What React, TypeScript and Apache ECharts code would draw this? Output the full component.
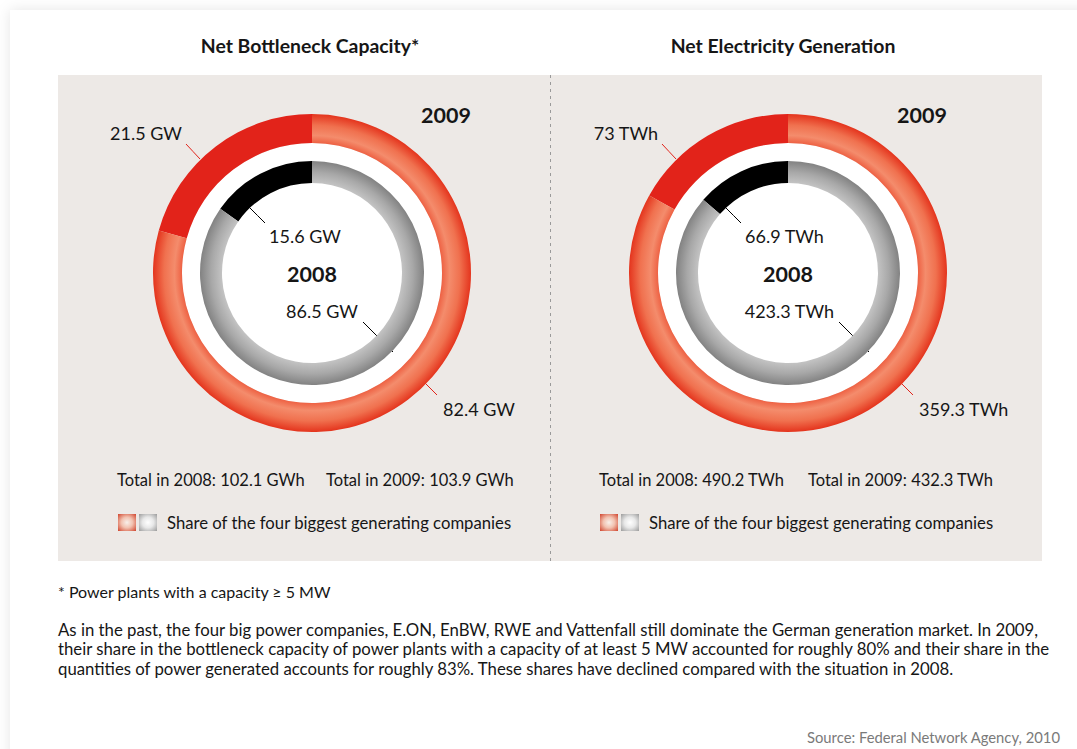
import React, { useEffect, useRef } from "react";
import * as echarts from "echarts";

// ---------- data ----------
const chartTitles = ["Net Bottleneck Capacity*", "Net Electricity Generation"];
const valueUnits = ["GW", "TWh"];
const totalUnits = ["GWh", "TWh"];
const sliceNames = ["Four biggest generating companies", "Other companies"];
const capacity2008 = [15.6, 86.5];
const capacity2009 = [21.5, 82.4];
const generation2008 = [66.9, 423.3];
const generation2009 = [73, 359.3];
const yearLabels = ["2008", "2009"];
const legendText = "Share of the four biggest generating companies";
const footnote = "* Power plants with a capacity \u2265 5 MW";
const paragraphLines = [
  "As in the past, the four big power companies, E.ON, EnBW, RWE and Vattenfall still dominate the German generation market. In 2009,",
  "their share in the bottleneck capacity of power plants with a capacity of at least 5 MW accounted for roughly 80% and their share in the",
  "quantities of power generated accounts for roughly 83%. These shares have declined compared with the situation in 2008.",
];
const sourceText = "Source: Federal Network Agency, 2010";

// ---------- style ----------
const W = 1077;
const H = 749;
const FONT = 'Lato, "Noto Sans", sans-serif';
const TEXT = "#161616";
const RED = "#e2231a";
const centers = [
  [312, 273],
  [788, 273],
];
const OUTER_R = [130, 159];
const INNER_R = [90, 112];
const bottomX = [117, 599];

const outerLabelPos = [
  { tx: -130, ty: -140, align: "right", line: [[-112, -114], [-126, -129]] },
  { tx: 131, ty: 136, align: "left", line: [[95, 92], [125, 122]] },
];
const innerLabelPos = [
  { tx: -43, ty: -37, align: "left", line: [[-62, -65], [-47, -50]] },
  { tx: 46, ty: 38, align: "right", line: [[81, 79], [51, 49]] },
];

const sum = (a: number[]) => Math.round(a.reduce((s, v) => s + v, 0) * 10) / 10;

function redGrad(cx: number, cy: number) {
  return new echarts.graphic.RadialGradient(
    cx,
    cy,
    OUTER_R[1],
    [
      { offset: 0.818, color: "#ee6244" },
      { offset: 0.865, color: "#f48c6c" },
      { offset: 0.93, color: "#f0714f" },
      { offset: 1, color: "#e4341d" },
    ],
    true
  );
}
function grayGrad(cx: number, cy: number) {
  return new echarts.graphic.RadialGradient(
    cx,
    cy,
    INNER_R[1],
    [
      { offset: 0.8, color: "#c4c4c4" },
      { offset: 0.9, color: "#a8a8a8" },
      { offset: 1, color: "#828282" },
    ],
    true
  );
}

function makeLayout(cx: number, cy: number, spec: any[]) {
  return (params: any) => {
    const s = spec[params.dataIndex];
    const p = (pt: number[]) => [cx + pt[0], cy + pt[1]];
    const a = p(s.line[0]);
    const b = p(s.line[1]);
    return {
      x: cx + s.tx,
      y: cy + s.ty,
      align: s.align,
      verticalAlign: "middle",
      labelLinePoints: [a, [(a[0] + b[0]) / 2, (a[1] + b[1]) / 2], b],
    };
  };
}

function ringSeries(
  panel: number,
  values: number[],
  radius: number[],
  spec: any[],
  firstColor: string,
  restColor: any,
  lineColor: string
) {
  const [cx, cy] = centers[panel];
  const unit = valueUnits[panel];
  return {
    type: "pie",
    center: [cx, cy],
    radius,
    startAngle: 90,
    clockwise: false,
    avoidLabelOverlap: false,
    silent: true,
    z: 3,
    data: values.map((v, i) => ({
      name: sliceNames[i],
      value: v,
      itemStyle: { color: i === 0 ? firstColor : restColor },
    })),
    label: {
      show: true,
      position: "outside",
      formatter: (p: any) => `${p.value} ${unit}`,
      fontSize: 18,
      fontFamily: FONT,
      color: TEXT,
    },
    labelLine: { show: true, lineStyle: { color: lineColor, width: 1 } },
    labelLayout: makeLayout(cx, cy, spec),
  };
}

export default function App() {
  const ref = useRef<HTMLDivElement>(null);
  useEffect(() => {
    document.body.style.margin = "0";
    const chart = echarts.init(ref.current!, null, { renderer: "svg" });
    const datasets2008 = [capacity2008, generation2008];
    const datasets2009 = [capacity2009, generation2009];

    const series: any[] = [];
    const graphics: any[] = [
      {
        type: "rect",
        shape: { x: 10, y: 10, width: 1200, height: 900 },
        style: { fill: "#ffffff", shadowBlur: 14, shadowColor: "rgba(0,0,0,0.10)" },
        z: 0,
        silent: true,
      },
      {
        type: "rect",
        shape: { x: 58, y: 75, width: 984, height: 486 },
        style: { fill: "#ede9e6" },
        z: 0,
        silent: true,
      },
      {
        type: "line",
        shape: { x1: 550.5, y1: 75, x2: 550.5, y2: 561 },
        style: { stroke: "#9a9a9a", lineWidth: 1, lineDash: [3, 4] },
        z: 1,
        silent: true,
      },
    ];

    [0, 1].forEach((panel) => {
      const [cx, cy] = centers[panel];
      series.push(
        ringSeries(panel, datasets2009[panel], OUTER_R, outerLabelPos, RED, redGrad(cx, cy), RED)
      );
      series.push(
        ringSeries(panel, datasets2008[panel], INNER_R, innerLabelPos, "#000000", grayGrad(cx, cy), "#000000")
      );
      const titleCx = panel === 0 ? 310 : 783;
      const bx = bottomX[panel];
      graphics.push(
        { type: "circle", shape: { cx, cy, r: OUTER_R[0] }, style: { fill: "#ffffff" }, z: 1, silent: true },
        {
          type: "text",
          x: titleCx,
          y: 45,
          style: { text: chartTitles[panel], fontFamily: FONT, fontSize: 19.4, fontWeight: "bold", fill: TEXT, align: "center", verticalAlign: "middle" },
          z: 5,
        },
        {
          type: "text",
          x: cx,
          y: cy + 1,
          style: { text: yearLabels[0], fontFamily: FONT, fontSize: 21.5, fontWeight: "bold", fill: TEXT, align: "center", verticalAlign: "middle" },
          z: 5,
        },
        {
          type: "text",
          x: cx + 134,
          y: 115,
          style: { text: yearLabels[1], fontFamily: FONT, fontSize: 21.5, fontWeight: "bold", fill: TEXT, align: "center", verticalAlign: "middle" },
          z: 5,
        },
        {
          type: "text",
          x: bx,
          y: 480,
          style: {
            text: `Total in ${yearLabels[0]}: ${sum(datasets2008[panel]).toFixed(1)} ${totalUnits[panel]}`,
            fontFamily: FONT, fontSize: 16.5, fill: TEXT, align: "left", verticalAlign: "middle",
          },
          z: 5,
        },
        {
          type: "text",
          x: bx + 209,
          y: 480,
          style: {
            text: `Total in ${yearLabels[1]}: ${sum(datasets2009[panel]).toFixed(1)} ${totalUnits[panel]}`,
            fontFamily: FONT, fontSize: 16.5, fill: TEXT, align: "left", verticalAlign: "middle",
          },
          z: 5,
        },
        {
          type: "rect",
          shape: { x: bx + 1, y: 514, width: 18, height: 17 },
          style: {
            fill: new echarts.graphic.RadialGradient(0.5, 0.5, 0.7, [
              { offset: 0, color: "#f8f0ea" },
              { offset: 0.45, color: "#f2c2b0" },
              { offset: 1, color: "#d0452e" },
            ]),
          },
          z: 5,
          silent: true,
        },
        {
          type: "rect",
          shape: { x: bx + 22, y: 514, width: 18, height: 17 },
          style: {
            fill: new echarts.graphic.RadialGradient(0.5, 0.5, 0.7, [
              { offset: 0, color: "#ffffff" },
              { offset: 0.45, color: "#e8e8e8" },
              { offset: 1, color: "#9c9c9c" },
            ]),
          },
          z: 5,
          silent: true,
        },
        {
          type: "text",
          x: bx + 50,
          y: 523,
          style: { text: legendText, fontFamily: FONT, fontSize: 16.7, fill: TEXT, align: "left", verticalAlign: "middle" },
          z: 5,
        }
      );
    });

    graphics.push(
      {
        type: "text",
        x: 58,
        y: 591,
        style: { text: footnote, fontFamily: FONT, fontSize: 16, fill: TEXT, align: "left", verticalAlign: "middle" },
        z: 5,
      },
      ...paragraphLines.map((line, i) => ({
        type: "text",
        x: 58,
        y: 629 + i * 19.5,
        style: { text: line, fontFamily: FONT, fontSize: 16.75, fill: TEXT, align: "left", verticalAlign: "middle" },
        z: 5,
      })),
      {
        type: "text",
        x: 1060,
        y: 737,
        style: { text: sourceText, fontFamily: FONT, fontSize: 14.8, fill: "#7a7a7a", align: "right", verticalAlign: "middle" },
        z: 5,
      }
    );

    chart.setOption({
      animation: false,
      backgroundColor: "#ffffff",
      graphic: { elements: graphics },
      series,
    });
    return () => chart.dispose();
  }, []);
  return <div ref={ref} style={{ width: W, height: H }} />;
}
